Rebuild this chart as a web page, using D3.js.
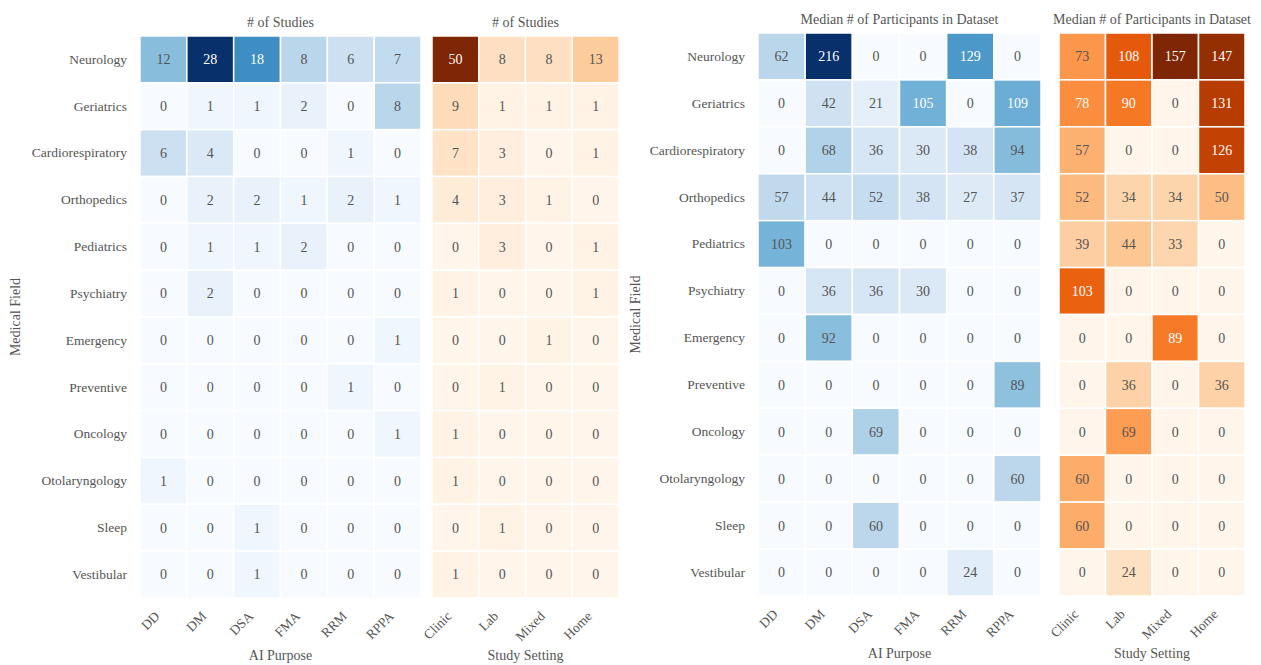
<!DOCTYPE html>
<html lang="en">
<head>
    <meta charset="UTF-8">
    <title>Medical field heatmaps</title>
    <script src="https://d3js.org/d3.v7.min.js"></script>
    <style>
        body { margin: 0; background: #fff; }
        svg text { font-family: "Liberation Serif", "DejaVu Serif", serif; fill: #555; }
        .cell { stroke: #fff; stroke-width: 1.5px; }
        .axis .domain { display: none; }
        .axis text { font-size: 13.5px; }
    </style>
</head>
<body>
    <svg id="chart" width="1261" height="665"></svg>

    <script>
        const fields = ["Neurology", "Geriatrics", "Cardiorespiratory", "Orthopedics", "Pediatrics",
            "Psychiatry", "Emergency", "Preventive", "Oncology", "Otolaryngology", "Sleep", "Vestibular"];
        const purposes = ["DD", "DM", "DSA", "FMA", "RRM", "RPPA"];
        const settings = ["Clinic", "Lab", "Mixed", "Home"];

        // # of studies per field x AI purpose
        const studiesPurpose = [
            [12, 28, 18, 8, 6, 7],
            [0, 1, 1, 2, 0, 8],
            [6, 4, 0, 0, 1, 0],
            [0, 2, 2, 1, 2, 1],
            [0, 1, 1, 2, 0, 0],
            [0, 2, 0, 0, 0, 0],
            [0, 0, 0, 0, 0, 1],
            [0, 0, 0, 0, 1, 0],
            [0, 0, 0, 0, 0, 1],
            [1, 0, 0, 0, 0, 0],
            [0, 0, 1, 0, 0, 0],
            [0, 0, 1, 0, 0, 0]
        ];
        // # of studies per field x study setting
        const studiesSetting = [
            [50, 8, 8, 13],
            [9, 1, 1, 1],
            [7, 3, 0, 1],
            [4, 3, 1, 0],
            [0, 3, 0, 1],
            [1, 0, 0, 1],
            [0, 0, 1, 0],
            [0, 1, 0, 0],
            [1, 0, 0, 0],
            [1, 0, 0, 0],
            [0, 1, 0, 0],
            [1, 0, 0, 0]
        ];
        // median participants per field x AI purpose
        const medianPurpose = [
            [62, 216, 0, 0, 129, 0],
            [0, 42, 21, 105, 0, 109],
            [0, 68, 36, 30, 38, 94],
            [57, 44, 52, 38, 27, 37],
            [103, 0, 0, 0, 0, 0],
            [0, 36, 36, 30, 0, 0],
            [0, 92, 0, 0, 0, 0],
            [0, 0, 0, 0, 0, 89],
            [0, 0, 69, 0, 0, 0],
            [0, 0, 0, 0, 0, 60],
            [0, 0, 60, 0, 0, 0],
            [0, 0, 0, 0, 24, 0]
        ];
        // median participants per field x study setting
        const medianSetting = [
            [73, 108, 157, 147],
            [78, 90, 0, 131],
            [57, 0, 0, 126],
            [52, 34, 34, 50],
            [39, 44, 33, 0],
            [103, 0, 0, 0],
            [0, 0, 89, 0],
            [0, 36, 0, 36],
            [0, 69, 0, 0],
            [60, 0, 0, 0],
            [60, 0, 0, 0],
            [0, 24, 0, 0]
        ];

        const svg = d3.select("#chart");

        function luminance(c) {
            const rgb = d3.rgb(c);
            const lin = v => {
                v = v / 255;
                return v <= 0.03928 ? v / 12.92 : Math.pow((v + 0.055) / 1.055, 2.4);
            };
            return 0.2126 * lin(rgb.r) + 0.7152 * lin(rgb.g) + 0.0722 * lin(rgb.b);
        }

        function heatmap(opts) {
            const g = svg.append("g");
            const x = d3.scaleBand().domain(opts.cols).range([opts.x0, opts.x1]);
            const y = d3.scaleBand().domain(fields).range([opts.y0, opts.y1]);
            const vmax = d3.max(opts.values.flat());
            const color = d3.scaleSequential(opts.interp).domain([0, vmax]);

            const cells = [];
            opts.values.forEach((row, i) => row.forEach((v, j) => {
                cells.push({ field: fields[i], col: opts.cols[j], v: v });
            }));

            g.selectAll(".cell")
                .data(cells)
                .enter().append("rect")
                .attr("class", "cell")
                .attr("x", d => x(d.col))
                .attr("y", d => y(d.field))
                .attr("width", x.bandwidth())
                .attr("height", y.bandwidth())
                .attr("fill", d => color(d.v));

            g.selectAll(".val")
                .data(cells)
                .enter().append("text")
                .attr("x", d => x(d.col) + x.bandwidth() / 2)
                .attr("y", d => y(d.field) + y.bandwidth() / 2)
                .attr("dy", "0.35em")
                .attr("text-anchor", "middle")
                .style("font-size", "14px")
                .style("fill", d => luminance(color(d.v)) > 0.408 ? "#555" : "#fff")
                .text(d => d.v);

            // title
            g.append("text")
                .attr("x", (opts.x0 + opts.x1) / 2)
                .attr("y", opts.y0 - 9)
                .attr("text-anchor", "middle")
                .style("font-size", "14px")
                .text(opts.title);

            // x axis
            const xAxis = g.append("g")
                .attr("class", "axis")
                .attr("transform", `translate(0, ${opts.y1})`)
                .call(d3.axisBottom(x).tickSize(0).tickPadding(0));
            xAxis.selectAll("text")
                .attr("text-anchor", "end")
                .attr("dy", null)
                .attr("y", 0)
                .attr("transform", "translate(-3, 19) rotate(-45)");

            g.append("text")
                .attr("x", (opts.x0 + opts.x1) / 2)
                .attr("y", opts.y1 + 62)
                .attr("text-anchor", "middle")
                .style("font-size", "14px")
                .text(opts.xlabel);

            if (opts.showY) {
                g.append("g")
                    .attr("class", "axis")
                    .attr("transform", `translate(${opts.x0}, 0)`)
                    .call(d3.axisLeft(y).tickSize(0).tickPadding(13));

                g.append("text")
                    .attr("transform", `translate(${opts.yLabelX}, ${(opts.y0 + opts.y1) / 2}) rotate(-90)`)
                    .attr("text-anchor", "middle")
                    .style("font-size", "14px")
                    .text("Medical Field");
            }
        }

        heatmap({ x0: 140, x1: 421, y0: 36, y1: 598, cols: purposes, values: studiesPurpose,
            interp: d3.interpolateBlues, title: "# of Studies", xlabel: "AI Purpose", showY: true, yLabelX: 20 });
        heatmap({ x0: 432, x1: 619, y0: 36, y1: 598, cols: settings, values: studiesSetting,
            interp: d3.interpolateOranges, title: "# of Studies", xlabel: "Study Setting", showY: false });
        heatmap({ x0: 758, x1: 1041, y0: 33, y1: 596, cols: purposes, values: medianPurpose,
            interp: d3.interpolateBlues, title: "Median # of Participants in Dataset", xlabel: "AI Purpose", showY: true, yLabelX: 640 });
        heatmap({ x0: 1059, x1: 1245, y0: 33, y1: 596, cols: settings, values: medianSetting,
            interp: d3.interpolateOranges, title: "Median # of Participants in Dataset", xlabel: "Study Setting", showY: false });
    </script>
</body>
</html>
